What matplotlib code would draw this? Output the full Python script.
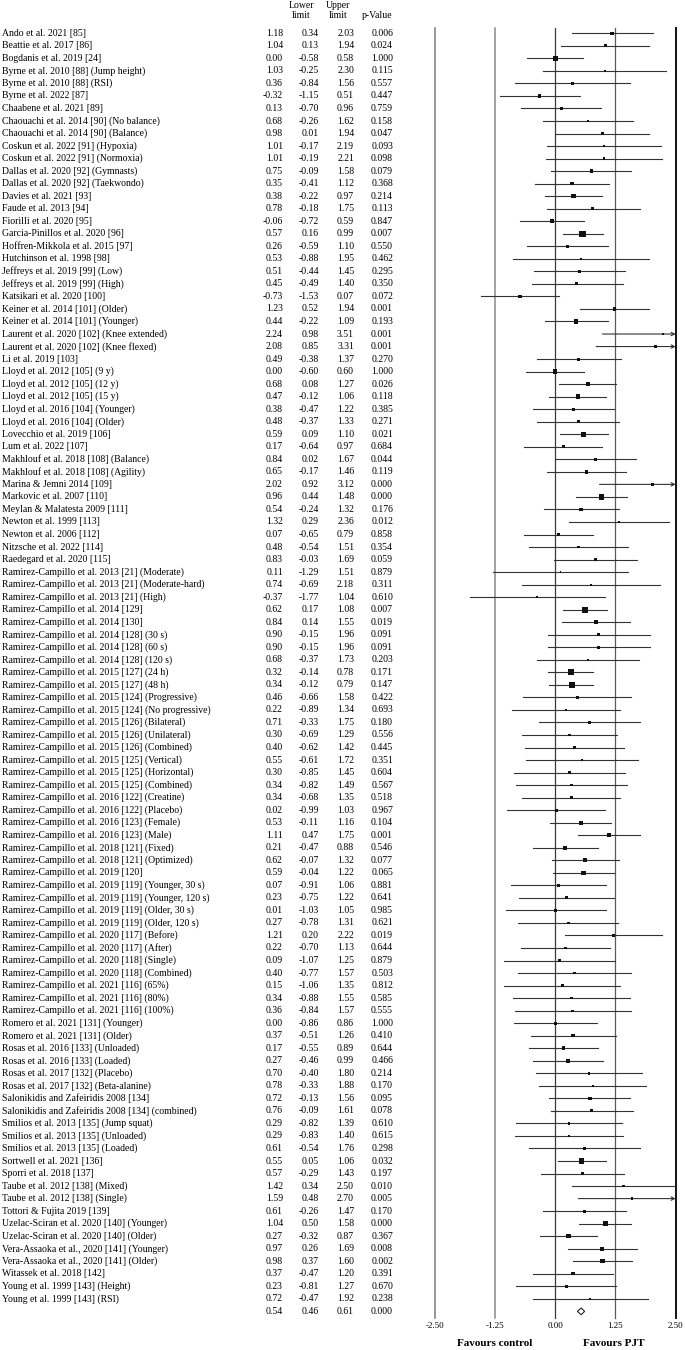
import matplotlib.pyplot as plt
import matplotlib.transforms as mtransforms
import numpy as np

RC = 'Ramirez-Campillo et al. '
labels = [
    'Ando et al. 2021 [85]', 'Beattie et al. 2017 [86]', 'Bogdanis et al. 2019 [24]',
    'Byrne et al. 2010 [88] (Jump height)', 'Byrne et al. 2010 [88] (RSI)', 'Byrne et al. 2022 [87]',
    'Chaabene et al. 2021 [89]', 'Chaouachi et al. 2014 [90] (No balance)',
    'Chaouachi et al. 2014 [90] (Balance)', 'Coskun et al. 2022 [91] (Hypoxia)',
    'Coskun et al. 2022 [91] (Normoxia)', 'Dallas et al. 2020 [92] (Gymnasts)',
    'Dallas et al. 2020 [92] (Taekwondo)', 'Davies et al. 2021 [93]', 'Faude et al. 2013 [94]',
    'Fiorilli et al. 2020 [95]', 'Garcia-Pinillos et al. 2020 [96]',
    'Hoffren-Mikkola et al. 2015 [97]', 'Hutchinson et al. 1998 [98]',
    'Jeffreys et al. 2019 [99] (Low)', 'Jeffreys et al. 2019 [99] (High)',
    'Katsikari et al. 2020 [100]', 'Keiner et al. 2014 [101] (Older)',
    'Keiner et al. 2014 [101] (Younger)', 'Laurent et al. 2020 [102] (Knee extended)',
    'Laurent et al. 2020 [102] (Knee flexed)', 'Li et al. 2019 [103]',
    'Lloyd et al. 2012 [105] (9 y)', 'Lloyd et al. 2012 [105] (12 y)', 'Lloyd et al. 2012 [105] (15 y)',
    'Lloyd et al. 2016 [104] (Younger)', 'Lloyd et al. 2016 [104] (Older)',
    'Lovecchio et al. 2019 [106]', 'Lum et al. 2022 [107]',
    'Makhlouf et al. 2018 [108] (Balance)', 'Makhlouf et al. 2018 [108] (Agility)',
    'Marina & Jemni 2014 [109]', 'Markovic et al. 2007 [110]', 'Meylan & Malatesta 2009 [111]',
    'Newton et al. 1999 [113]', 'Newton et al. 2006 [112]', 'Nitzsche et al. 2022 [114]',
    'Raedegard et al. 2020 [115]',
    RC + '2013 [21] (Moderate)', RC + '2013 [21] (Moderate-hard)', RC + '2013 [21] (High)',
    RC + '2014 [129]', RC + '2014 [130]', RC + '2014 [128] (30 s)', RC + '2014 [128] (60 s)',
    RC + '2014 [128] (120 s)', RC + '2015 [127] (24 h)', RC + '2015 [127] (48 h)',
    RC + '2015 [124] (Progressive)', RC + '2015 [124] (No progressive)',
    RC + '2015 [126] (Bilateral)', RC + '2015 [126] (Unilateral)', RC + '2015 [126] (Combined)',
    RC + '2015 [125] (Vertical)', RC + '2015 [125] (Horizontal)', RC + '2015 [125] (Combined)',
    RC + '2016 [122] (Creatine)', RC + '2016 [122] (Placebo)', RC + '2016 [123] (Female)',
    RC + '2016 [123] (Male)', RC + '2018 [121] (Fixed)', RC + '2018 [121] (Optimized)',
    RC + '2019 [120]', RC + '2019 [119] (Younger, 30 s)', RC + '2019 [119] (Younger, 120 s)',
    RC + '2019 [119] (Older, 30 s)', RC + '2019 [119] (Older, 120 s)',
    RC + '2020 [117] (Before)', RC + '2020 [117] (After)', RC + '2020 [118] (Single)',
    RC + '2020 [118] (Combined)', RC + '2021 [116] (65%)', RC + '2021 [116] (80%)',
    RC + '2021 [116] (100%)',
    'Romero et al. 2021 [131] (Younger)', 'Romero et al. 2021 [131] (Older)',
    'Rosas et al. 2016 [133] (Unloaded)', 'Rosas et al. 2016 [133] (Loaded)',
    'Rosas et al. 2017 [132] (Placebo)', 'Rosas et al. 2017 [132] (Beta-alanine)',
    'Salonikidis and Zafeiridis 2008 [134]', 'Salonikidis and Zafeiridis 2008 [134] (combined)',
    'Smilios et al. 2013 [135] (Jump squat)', 'Smilios et al. 2013 [135] (Unloaded)',
    'Smilios et al. 2013 [135] (Loaded)', 'Sortwell et al. 2021 [136]', 'Sporri et al. 2018 [137]',
    'Taube et al. 2012 [138] (Mixed)', 'Taube et al. 2012 [138] (Single)',
    'Tottori & Fujita 2019 [139]', 'Uzelac-Sciran et al. 2020 [140] (Younger)',
    'Uzelac-Sciran et al. 2020 [140] (Older)', 'Vera-Assaoka et al., 2020 [141] (Younger)',
    'Vera-Assaoka et al., 2020 [141] (Older)', 'Witassek et al. 2018 [142]',
    'Young et al. 1999 [143] (Height)', 'Young et al. 1999 [143] (RSI)',
]

est = [1.18, 1.04, 0.00, 1.03, 0.36, -0.32, 0.13, 0.68, 0.98, 1.01, 1.01, 0.75, 0.35, 0.38, 0.78,
       -0.06, 0.57, 0.26, 0.53, 0.51, 0.45, -0.73, 1.23, 0.44, 2.24, 2.08, 0.49, 0.00, 0.68, 0.47,
       0.38, 0.48, 0.59, 0.17, 0.84, 0.65, 2.02, 0.96, 0.54, 1.32, 0.07, 0.48, 0.83,
       0.11, 0.74, -0.37, 0.62, 0.84, 0.90, 0.90, 0.68, 0.32, 0.34, 0.46, 0.22, 0.71, 0.30, 0.40,
       0.55, 0.30, 0.34, 0.34, 0.02, 0.53, 1.11, 0.21, 0.62, 0.59, 0.07, 0.23, 0.01, 0.27, 1.21,
       0.22, 0.09, 0.40, 0.15, 0.34, 0.36, 0.00, 0.37, 0.17, 0.27, 0.70, 0.78, 0.72, 0.76, 0.29,
       0.29, 0.61, 0.55, 0.57, 1.42, 1.59, 0.61, 1.04, 0.27, 0.97, 0.98, 0.37, 0.23, 0.72]
lower = [0.34, 0.13, -0.58, -0.25, -0.84, -1.15, -0.70, -0.26, 0.01, -0.17, -0.19, -0.09, -0.41,
         -0.22, -0.18, -0.72, 0.16, -0.59, -0.88, -0.44, -0.49, -1.53, 0.52, -0.22, 0.98, 0.85,
         -0.38, -0.60, 0.08, -0.12, -0.47, -0.37, 0.09, -0.64, 0.02, -0.17, 0.92, 0.44, -0.24,
         0.29, -0.65, -0.54, -0.03,
         -1.29, -0.69, -1.77, 0.17, 0.14, -0.15, -0.15, -0.37, -0.14, -0.12, -0.66, -0.89, -0.33,
         -0.69, -0.62, -0.61, -0.85, -0.82, -0.68, -0.99, -0.11, 0.47, -0.47, -0.07, -0.04, -0.91,
         -0.75, -1.03, -0.78, 0.20, -0.70, -1.07, -0.77, -1.06, -0.88, -0.84, -0.86, -0.51, -0.55,
         -0.46, -0.40, -0.33, -0.13, -0.09, -0.82, -0.83, -0.54, 0.05, -0.29, 0.34, 0.48, -0.26,
         0.50, -0.32, 0.26, 0.37, -0.47, -0.81, -0.47]
upper = [2.03, 1.94, 0.58, 2.30, 1.56, 0.51, 0.96, 1.62, 1.94, 2.19, 2.21, 1.58, 1.12, 0.97, 1.75,
         0.59, 0.99, 1.10, 1.95, 1.45, 1.40, 0.07, 1.94, 1.09, 3.51, 3.31, 1.37, 0.60, 1.27, 1.06,
         1.22, 1.33, 1.10, 0.97, 1.67, 1.46, 3.12, 1.48, 1.32, 2.36, 0.79, 1.51, 1.69,
         1.51, 2.18, 1.04, 1.08, 1.55, 1.96, 1.96, 1.73, 0.78, 0.79, 1.58, 1.34, 1.75, 1.29, 1.42,
         1.72, 1.45, 1.49, 1.35, 1.03, 1.16, 1.75, 0.88, 1.32, 1.22, 1.06, 1.22, 1.05, 1.31, 2.22,
         1.13, 1.25, 1.57, 1.35, 1.55, 1.57, 0.86, 1.26, 0.89, 0.99, 1.80, 1.88, 1.56, 1.61, 1.39,
         1.40, 1.76, 1.06, 1.43, 2.50, 2.70, 1.47, 1.58, 0.87, 1.69, 1.60, 1.20, 1.27, 1.92]
pval = [0.006, 0.024, 1.000, 0.115, 0.557, 0.447, 0.759, 0.158, 0.047, 0.093, 0.098, 0.079, 0.368,
        0.214, 0.113, 0.847, 0.007, 0.550, 0.462, 0.295, 0.350, 0.072, 0.001, 0.193, 0.001, 0.001,
        0.270, 1.000, 0.026, 0.118, 0.385, 0.271, 0.021, 0.684, 0.044, 0.119, 0.000, 0.000, 0.176,
        0.012, 0.858, 0.354, 0.059,
        0.879, 0.311, 0.610, 0.007, 0.019, 0.091, 0.091, 0.203, 0.171, 0.147, 0.422, 0.693, 0.180,
        0.556, 0.445, 0.351, 0.604, 0.567, 0.518, 0.967, 0.104, 0.001, 0.546, 0.077, 0.065, 0.881,
        0.641, 0.985, 0.621, 0.019, 0.644, 0.879, 0.503, 0.812, 0.585, 0.555, 1.000, 0.410, 0.644,
        0.466, 0.214, 0.170, 0.095, 0.078, 0.610, 0.615, 0.298, 0.032, 0.197, 0.010, 0.005, 0.170,
        0.000, 0.367, 0.008, 0.002, 0.391, 0.670, 0.238]

# pooled estimate
pooled = (0.54, 0.46, 0.61, 0.000)

W, H = 685, 1350
fig = plt.figure(figsize=(W / 100, H / 100), dpi=100)
plt.rcParams['font.family'] = ['Liberation Serif', 'DejaVu Serif']

# forest axes (pixel layout)
x0, x1 = 434.7, 675.7
top, bot = 28, 1318
ax = fig.add_axes([x0 / W, 1 - bot / H, (x1 - x0) / W, (bot - top) / H])
row0, dy = 33.3, 12.53
ax.set_xlim(-2.5, 2.5)
ax.set_ylim((bot - row0) / dy, (top - row0) / dy)
for s in ax.spines.values():
    s.set_visible(False)
ax.set_yticks([])
ax.set_xticks([-2.5, -1.25, 0, 1.25, 2.5])
ax.set_xticklabels(['%.2f' % v for v in [-2.5, -1.25, 0, 1.25, 2.5]], fontsize=6.5)
ax.tick_params(axis='x', length=0, pad=3)

vcols = {-2.5: ('#7a7a7a', 1.1), -1.25: ('#8a8a8a', 1.1), 0: ('#3a3a3a', 0.9),
         1.25: ('#5a5a5a', 0.9), 2.5: ('#111111', 1.4)}
for v, (c, lw) in vcols.items():
    ax.axvline(v, color=c, lw=lw, zorder=1, clip_on=False)

n = len(labels)
ys = np.arange(n)
lo = np.array(lower)
hi = np.array(upper)
se = (hi - lo) / 3.92
wts = 1 / se ** 2

for i in range(n):
    if hi[i] > 2.5:
        ax.annotate('', xy=(2.5, ys[i]), xytext=(lo[i], ys[i]),
                    arrowprops=dict(arrowstyle='->', lw=0.8, color='#333333',
                                    shrinkA=0, shrinkB=0, mutation_scale=6),
                    annotation_clip=False, zorder=2)
    else:
        ax.plot([lo[i], hi[i]], [ys[i], ys[i]], color='#333333', lw=0.8, zorder=2)
ax.scatter(est, ys, s=wts * 1.0, marker='s', color='#111111', zorder=3, linewidths=0)

# pooled diamond
pe, pl, ph, pp = pooled
yd = n
h = 0.27
ax.fill([pl, pe, ph, pe], [yd, yd - h, yd, yd + h], facecolor='white',
        edgecolor='#222222', lw=0.8, zorder=3)

# table text
tr = mtransforms.blended_transform_factory(fig.transFigure, ax.transData)
fs = 7
for i in range(n):
    fig.text(2 / W, ys[i], labels[i], transform=tr, fontsize=fs, va='center', ha='left')
cols = [(283, est, '%.2f'), (319, lower, '%.2f'), (354, upper, '%.2f'), (393, pval, '%.3f')]
for xr, vals, fmt in cols:
    for i in range(n):
        fig.text(xr / W, ys[i], fmt % vals[i], transform=tr, fontsize=fs, va='center', ha='right')
for xr, v, fmt in zip([283, 319, 354, 393], pooled, ['%.2f', '%.2f', '%.2f', '%.3f']):
    fig.text(xr / W, yd, fmt % v, transform=tr, fontsize=fs, va='center', ha='right')

# headers
fig.text(301 / W, 1 - 5 / H, 'Lower', fontsize=fs, ha='center', va='center')
fig.text(301 / W, 1 - 16 / H, 'limit', fontsize=fs, ha='center', va='center')
fig.text(338 / W, 1 - 5 / H, 'Upper', fontsize=fs, ha='center', va='center')
fig.text(338 / W, 1 - 16 / H, 'limit', fontsize=fs, ha='center', va='center')
fig.text(377 / W, 1 - 16 / H, 'p-Value', fontsize=fs, ha='center', va='center')

fig.text(495 / W, 1 - 1343 / H, 'Favours control', fontsize=8, fontweight='bold',
         ha='center', va='center')
fig.text(614 / W, 1 - 1343 / H, 'Favours PJT', fontsize=8, fontweight='bold',
         ha='center', va='center')

fig.savefig('out.png', dpi=100, facecolor='white')
